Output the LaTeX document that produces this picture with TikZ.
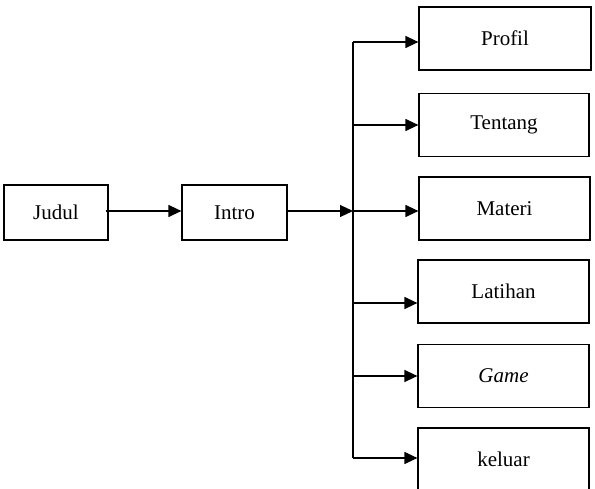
\documentclass[tikz,border=0pt]{standalone}
\usepackage{fontspec}
\setmainfont{Liberation Serif}
\usetikzlibrary{arrows.meta}

\begin{document}
\begin{tikzpicture}[x=1pt,y=-1pt,
    kotak/.style={draw,line width=1.2pt,minimum height=#1,inner sep=0pt,
        font=\fontsize{21}{25}\selectfont},
    kotak/.default=55pt,
    panah/.style={line width=1.2pt,-{Triangle[length=13pt,width=12pt]}}]
    \useasboundingbox (0,0) rectangle (595,489);

    % kotak kiri
    \node[kotak,minimum width=104pt] (judul) at (56,212.5) {Judul};
    \node[kotak,minimum width=105pt] (intro) at (234.5,212.5) {Intro};

    % kotak menu
    \node[kotak=63pt,minimum width=172pt] (profil) at (505,38.5) {Profil};
    \node[kotak=63pt,minimum width=170pt] (tentang) at (504,125) {Tentang};
    \node[kotak=63pt,minimum width=171pt] (materi) at (504.5,208.5) {Materi};
    \node[kotak=63pt,minimum width=171pt] (latihan) at (503.5,291.5) {Latihan};
    \node[kotak=63pt,minimum width=171pt] (game) at (503.5,376) {\textit{Game}};
    \node[kotak=63pt,minimum width=171pt] (keluar) at (503.5,459.5) {keluar};

    % titik cabang
    \coordinate (c1) at (353,42);
    \coordinate (c2) at (353,125);
    \coordinate (c3) at (353,211);
    \coordinate (c4) at (353,303);
    \coordinate (c5) at (353,376);
    \coordinate (c6) at (353,458);

    % panah utama
    \draw[panah] (judul.east |- c3) ++(-3,0) -- (intro.west |- c3);
    \draw[panah] (intro.east |- c3) -- (c3);

    % garis tegak
    \draw[line width=1.2pt] (c1) -- (c6);

    % panah ke menu
    \draw[panah] (c1) -- (c1 -| profil.west);
    \draw[panah] (c2) -- (c2 -| tentang.west);
    \draw[panah] (c3) -- (c3 -| materi.west);
    \draw[panah] (c4) -- (c4 -| latihan.west);
    \draw[panah] (c5) -- (c5 -| game.west);
    \draw[panah] (c6) -- (c6 -| keluar.west);
\end{tikzpicture}
\end{document}
